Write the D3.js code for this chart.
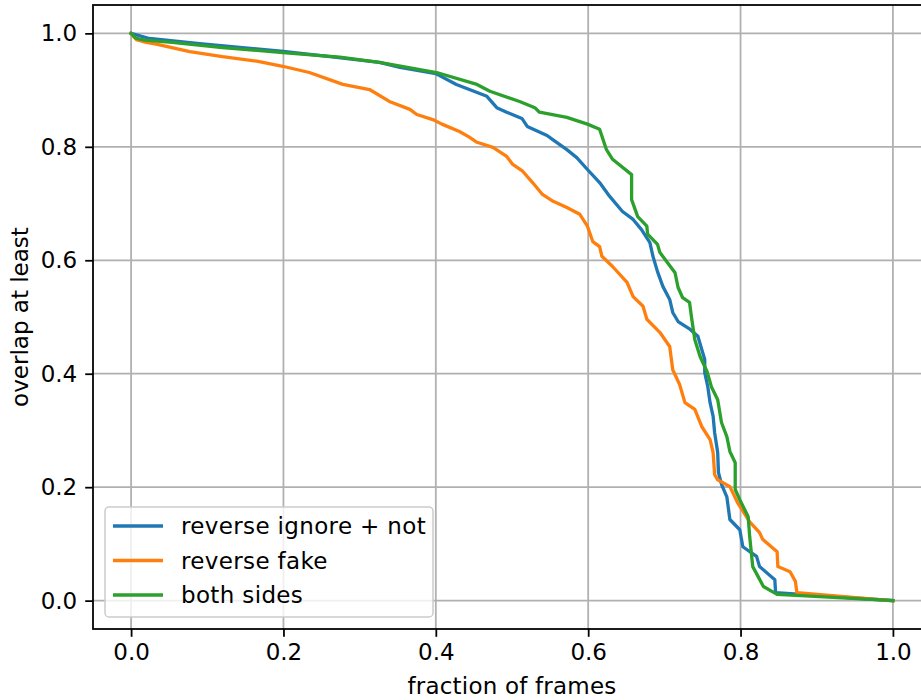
<!DOCTYPE html>
<html>
<head>
<meta charset="utf-8">
<script src="https://cdn.jsdelivr.net/npm/d3@7"></script>
<style>
  body { margin: 0; background: #fff; }
  svg text { font-family: "DejaVu Sans", sans-serif; }
</style>
</head>
<body>
<div id="chart"></div>
<script>
// series: [fraction of frames, overlap at least]
const seriesNames = ["reverse ignore + not", "reverse fake", "both sides"]
const seriesColors = ["#1f77b4", "#ff7f0e", "#2ca02c"]

const reverseIgnoreNot = [
  [0, 1.0], [0.024, 0.991], [0.090, 0.982], [0.200, 0.968], [0.261, 0.959],
  [0.326, 0.949], [0.353, 0.940], [0.400, 0.929], [0.427, 0.910], [0.467, 0.889],
  [0.480, 0.869], [0.493, 0.861], [0.513, 0.850], [0.520, 0.836], [0.546, 0.820],
  [0.553, 0.813], [0.572, 0.795], [0.585, 0.781], [0.599, 0.760], [0.615, 0.737],
  [0.628, 0.713], [0.645, 0.686], [0.659, 0.672], [0.670, 0.654], [0.681, 0.631],
  [0.685, 0.607], [0.691, 0.580], [0.698, 0.554], [0.707, 0.531], [0.711, 0.508],
  [0.718, 0.492], [0.734, 0.478], [0.744, 0.466], [0.749, 0.443], [0.753, 0.425],
  [0.753, 0.402], [0.757, 0.377], [0.760, 0.349], [0.764, 0.325], [0.766, 0.296],
  [0.770, 0.261], [0.771, 0.226], [0.775, 0.205], [0.782, 0.183], [0.786, 0.143],
  [0.799, 0.125], [0.803, 0.095], [0.821, 0.078], [0.825, 0.060], [0.845, 0.037],
  [0.846, 0.014], [1.0, 0.0]
]

const reverseFake = [
  [0, 1.0], [0.002, 0.996], [0.007, 0.989], [0.020, 0.984], [0.033, 0.981],
  [0.077, 0.968], [0.120, 0.959], [0.165, 0.951], [0.199, 0.942], [0.234, 0.931],
  [0.278, 0.910], [0.313, 0.901], [0.339, 0.880], [0.366, 0.866], [0.375, 0.857],
  [0.396, 0.848], [0.408, 0.840], [0.431, 0.827], [0.444, 0.817], [0.454, 0.808],
  [0.475, 0.799], [0.493, 0.783], [0.501, 0.769], [0.514, 0.757], [0.527, 0.737],
  [0.540, 0.716], [0.554, 0.704], [0.572, 0.693], [0.589, 0.681], [0.599, 0.660],
  [0.606, 0.633], [0.615, 0.624], [0.618, 0.607], [0.632, 0.589], [0.651, 0.561],
  [0.659, 0.536], [0.672, 0.519], [0.677, 0.496], [0.694, 0.473], [0.707, 0.448],
  [0.711, 0.407], [0.720, 0.381], [0.727, 0.349], [0.740, 0.337], [0.749, 0.307],
  [0.760, 0.284], [0.764, 0.261], [0.766, 0.222], [0.770, 0.213], [0.786, 0.201],
  [0.796, 0.173], [0.812, 0.139], [0.825, 0.120], [0.829, 0.108], [0.848, 0.086],
  [0.849, 0.060], [0.865, 0.051], [0.872, 0.034], [0.874, 0.014], [1.0, 0.0]
]

const bothSides = [
  [0, 1.0], [0.007, 0.991], [0.018, 0.988], [0.054, 0.984], [0.120, 0.975],
  [0.199, 0.966], [0.274, 0.958], [0.326, 0.949], [0.401, 0.931], [0.454, 0.910],
  [0.471, 0.898], [0.510, 0.880], [0.530, 0.869], [0.536, 0.861], [0.572, 0.852],
  [0.599, 0.840], [0.615, 0.831], [0.624, 0.795], [0.632, 0.778], [0.657, 0.751],
  [0.657, 0.707], [0.665, 0.677], [0.677, 0.660], [0.678, 0.646], [0.691, 0.628],
  [0.694, 0.614], [0.714, 0.578], [0.718, 0.552], [0.724, 0.534], [0.733, 0.526],
  [0.736, 0.496], [0.740, 0.460], [0.747, 0.430], [0.756, 0.404], [0.762, 0.376],
  [0.770, 0.354], [0.775, 0.314], [0.782, 0.289], [0.786, 0.263], [0.793, 0.243],
  [0.793, 0.196], [0.799, 0.178], [0.810, 0.148], [0.812, 0.113], [0.816, 0.060],
  [0.830, 0.025], [0.848, 0.011], [1.0, 0.0]
]

const xTicks = [0.0, 0.2, 0.4, 0.6, 0.8, 1.0]
const yTicks = [0.0, 0.2, 0.4, 0.6, 0.8, 1.0]

// layout (matplotlib-like, figure is cropped on the right)
let width = 921, height = 700
let plot = { left: 93, right: 931, top: 5, bottom: 629 }
let fontSize = 23
let lineW = 3.3
let thinW = 1.78

let svg = d3.select("#chart").append("svg")
  .attr("width", width)
  .attr("height", height)

let x = d3.scaleLinear().domain([-0.05, 1.05]).range([plot.left, plot.right])
let y = d3.scaleLinear().domain([-0.05, 1.05]).range([plot.bottom, plot.top])

// grid
let grid = svg.append("g").attr("class", "grid")
grid.selectAll("line.gx").data(xTicks).join("line")
  .attr("class", "gx")
  .attr("x1", d => x(d)).attr("x2", d => x(d))
  .attr("y1", plot.top).attr("y2", plot.bottom)
  .attr("stroke", "#b0b0b0").attr("stroke-width", thinW)
grid.selectAll("line.gy").data(yTicks).join("line")
  .attr("class", "gy")
  .attr("y1", d => y(d)).attr("y2", d => y(d))
  .attr("x1", plot.left).attr("x2", plot.right)
  .attr("stroke", "#b0b0b0").attr("stroke-width", thinW)

// lines
let line = d3.line().x(d => x(d[0])).y(d => y(d[1]))
let allSeries = [reverseIgnoreNot, reverseFake, bothSides]
svg.append("g").attr("class", "series")
  .selectAll("path").data(allSeries).join("path")
  .attr("d", d => line(d))
  .attr("fill", "none")
  .attr("stroke", (d, i) => seriesColors[i])
  .attr("stroke-width", lineW)
  .attr("stroke-linejoin", "round")
  .attr("stroke-linecap", "square")

// axes
let xAxis = d3.axisBottom(x).tickValues(xTicks).tickFormat(d3.format(".1f"))
  .tickSize(7.8).tickPadding(6)
let yAxis = d3.axisLeft(y).tickValues(yTicks).tickFormat(d3.format(".1f"))
  .tickSize(7.8).tickPadding(8)

let gx = svg.append("g")
  .attr("transform", "translate(0," + plot.bottom + ")")
  .call(xAxis)
let gy = svg.append("g")
  .attr("transform", "translate(" + plot.left + ",0)")
  .call(yAxis)

;[gx, gy].forEach(g => {
  g.select(".domain").remove()
  g.selectAll(".tick line").attr("stroke", "#000").attr("stroke-width", thinW)
  g.selectAll(".tick text")
    .attr("fill", "#000")
    .attr("font-size", fontSize)
    .attr("font-family", "DejaVu Sans")
})
gx.selectAll(".tick text").attr("dy", "0.74em")

// spines
svg.append("rect")
  .attr("x", plot.left).attr("y", plot.top)
  .attr("width", plot.right - plot.left)
  .attr("height", plot.bottom - plot.top)
  .attr("fill", "none")
  .attr("stroke", "#000")
  .attr("stroke-width", thinW)

// axis labels
svg.append("text")
  .attr("x", (plot.left + plot.right) / 2)
  .attr("y", 694)
  .attr("text-anchor", "middle")
  .attr("font-size", fontSize)
  .attr("letter-spacing", 0.2)
  .text("fraction of frames")

svg.append("text")
  .attr("transform", "translate(28," + (plot.top + plot.bottom) / 2 + ") rotate(-90)")
  .attr("text-anchor", "middle")
  .attr("font-size", fontSize)
  .text("overlap at least")

// legend
let legend = svg.append("g").attr("class", "legend")
legend.append("rect")
  .attr("x", 105).attr("y", 507)
  .attr("width", 328).attr("height", 110)
  .attr("rx", 4).attr("ry", 4)
  .attr("fill", "#fff").attr("fill-opacity", 0.8)
  .attr("stroke", "#cccccc").attr("stroke-width", 1.5)

let rows = legend.selectAll("g.row").data(seriesNames).join("g")
  .attr("class", "row")
  .attr("transform", (d, i) => "translate(0," + (526 + i * 34.5) + ")")
rows.append("line")
  .attr("x1", 113).attr("x2", 163)
  .attr("stroke", (d, i) => seriesColors[i])
  .attr("stroke-width", lineW)
rows.append("text")
  .attr("x", 181).attr("y", 8)
  .attr("font-size", fontSize)
  .attr("letter-spacing", 0.35)
  .attr("fill", "#000")
  .text(d => d)
</script>
</body>
</html>
